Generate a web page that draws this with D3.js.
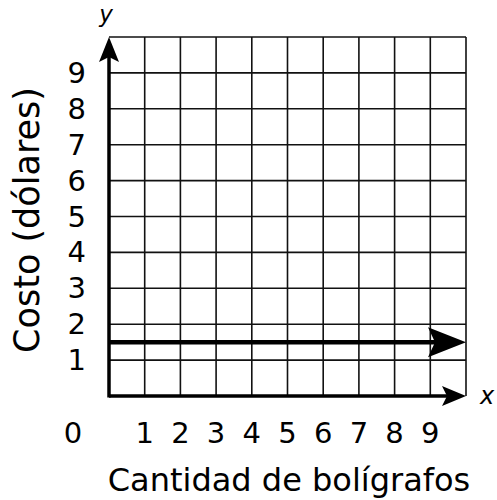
<!DOCTYPE html>
<html>
<head>
<meta charset="utf-8">
<script src="https://cdn.jsdelivr.net/npm/d3@7"></script>
<style>
  body { margin: 0; background: #fff; }
  svg text { font-family: "DejaVu Sans", Verdana, sans-serif; fill: #000; }
</style>
</head>
<body>
<div id="chart"></div>
<script>
const xTicks = [1, 2, 3, 4, 5, 6, 7, 8, 9];
const yTicks = [1, 2, 3, 4, 5, 6, 7, 8, 9];
const gridValues = [1, 2, 3, 4, 5, 6, 7, 8, 9, 10];
const costValue = 1.5;
const xTitle = 'Cantidad de bolígrafos';
const yTitle = 'Costo (dólares)';

const svgWidth = 497, svgHeight = 500;

const x = d3.scaleLinear().domain([0, 10]).range([109, 466]);
const y = d3.scaleLinear().domain([0, 10]).range([396, 37]);

const svg = d3.select('#chart').append('svg')
    .attr('width', svgWidth)
    .attr('height', svgHeight);

// grid
svg.selectAll('.vgrid').data(gridValues).enter()
    .append('line')
    .attr('class', 'vgrid')
    .attr('x1', d => x(d)).attr('x2', d => x(d))
    .attr('y1', y(0)).attr('y2', y(10))
    .attr('stroke', '#111').attr('stroke-width', 1.6);

svg.selectAll('.hgrid').data(gridValues).enter()
    .append('line')
    .attr('class', 'hgrid')
    .attr('x1', x(0)).attr('x2', x(10))
    .attr('y1', d => y(d)).attr('y2', d => y(d))
    .attr('stroke', '#111').attr('stroke-width', 1.6);

// axes with arrows
svg.append('line')
    .attr('x1', x(0)).attr('x2', x(10) - 15)
    .attr('y1', y(0)).attr('y2', y(0))
    .attr('stroke', '#000').attr('stroke-width', 3.5);
svg.append('path')
    .attr('d', `M${x(10)},${y(0)} L${x(10) - 24},${y(0) - 10} L${x(10) - 19},${y(0)} L${x(10) - 24},${y(0) + 10} Z`)
    .attr('fill', '#000');

svg.append('line')
    .attr('x1', x(0)).attr('x2', x(0))
    .attr('y1', y(0) + 1.5).attr('y2', y(10) + 15)
    .attr('stroke', '#000').attr('stroke-width', 3.5);
svg.append('path')
    .attr('d', `M${x(0)},${y(10)} L${x(0) - 10},${y(10) + 25} L${x(0)},${y(10) + 20} L${x(0) + 10},${y(10) + 25} Z`)
    .attr('fill', '#000');

// cost line
svg.append('line')
    .attr('x1', x(0)).attr('x2', x(10) - 25)
    .attr('y1', y(costValue)).attr('y2', y(costValue))
    .attr('stroke', '#000').attr('stroke-width', 4.5);
svg.append('path')
    .attr('d', `M${x(10)},${y(costValue)} L${x(10) - 38},${y(costValue) - 15} L${x(10) - 31},${y(costValue)} L${x(10) - 38},${y(costValue) + 15} Z`)
    .attr('fill', '#000');

// tick labels
svg.selectAll('.xlab').data(xTicks).enter()
    .append('text')
    .attr('class', 'xlab')
    .attr('x', d => x(d))
    .attr('y', 443)
    .attr('text-anchor', 'middle')
    .style('font-size', '29px')
    .text(d => d);

svg.selectAll('.ylab').data(yTicks).enter()
    .append('text')
    .attr('class', 'ylab')
    .attr('x', 86)
    .attr('y', d => y(d) + 10)
    .attr('text-anchor', 'end')
    .style('font-size', '29px')
    .text(d => d);

svg.append('text')
    .attr('x', 73).attr('y', 443)
    .attr('text-anchor', 'middle')
    .style('font-size', '29px')
    .text('0');

// axis letters
svg.append('text')
    .attr('x', 487).attr('y', 404)
    .attr('text-anchor', 'middle')
    .style('font-size', '24px').style('font-style', 'italic')
    .text('x');
svg.append('text')
    .attr('x', 106).attr('y', 22)
    .attr('text-anchor', 'middle')
    .style('font-size', '23px').style('font-style', 'italic')
    .text('y');

// titles
svg.append('text')
    .attr('x', 289).attr('y', 491)
    .attr('text-anchor', 'middle')
    .style('font-size', '32px')
    .text(xTitle);

svg.append('text')
    .attr('transform', 'translate(39,220) rotate(-90)')
    .attr('text-anchor', 'middle')
    .style('font-size', '35px')
    .text(yTitle);
</script>
</body>
</html>
